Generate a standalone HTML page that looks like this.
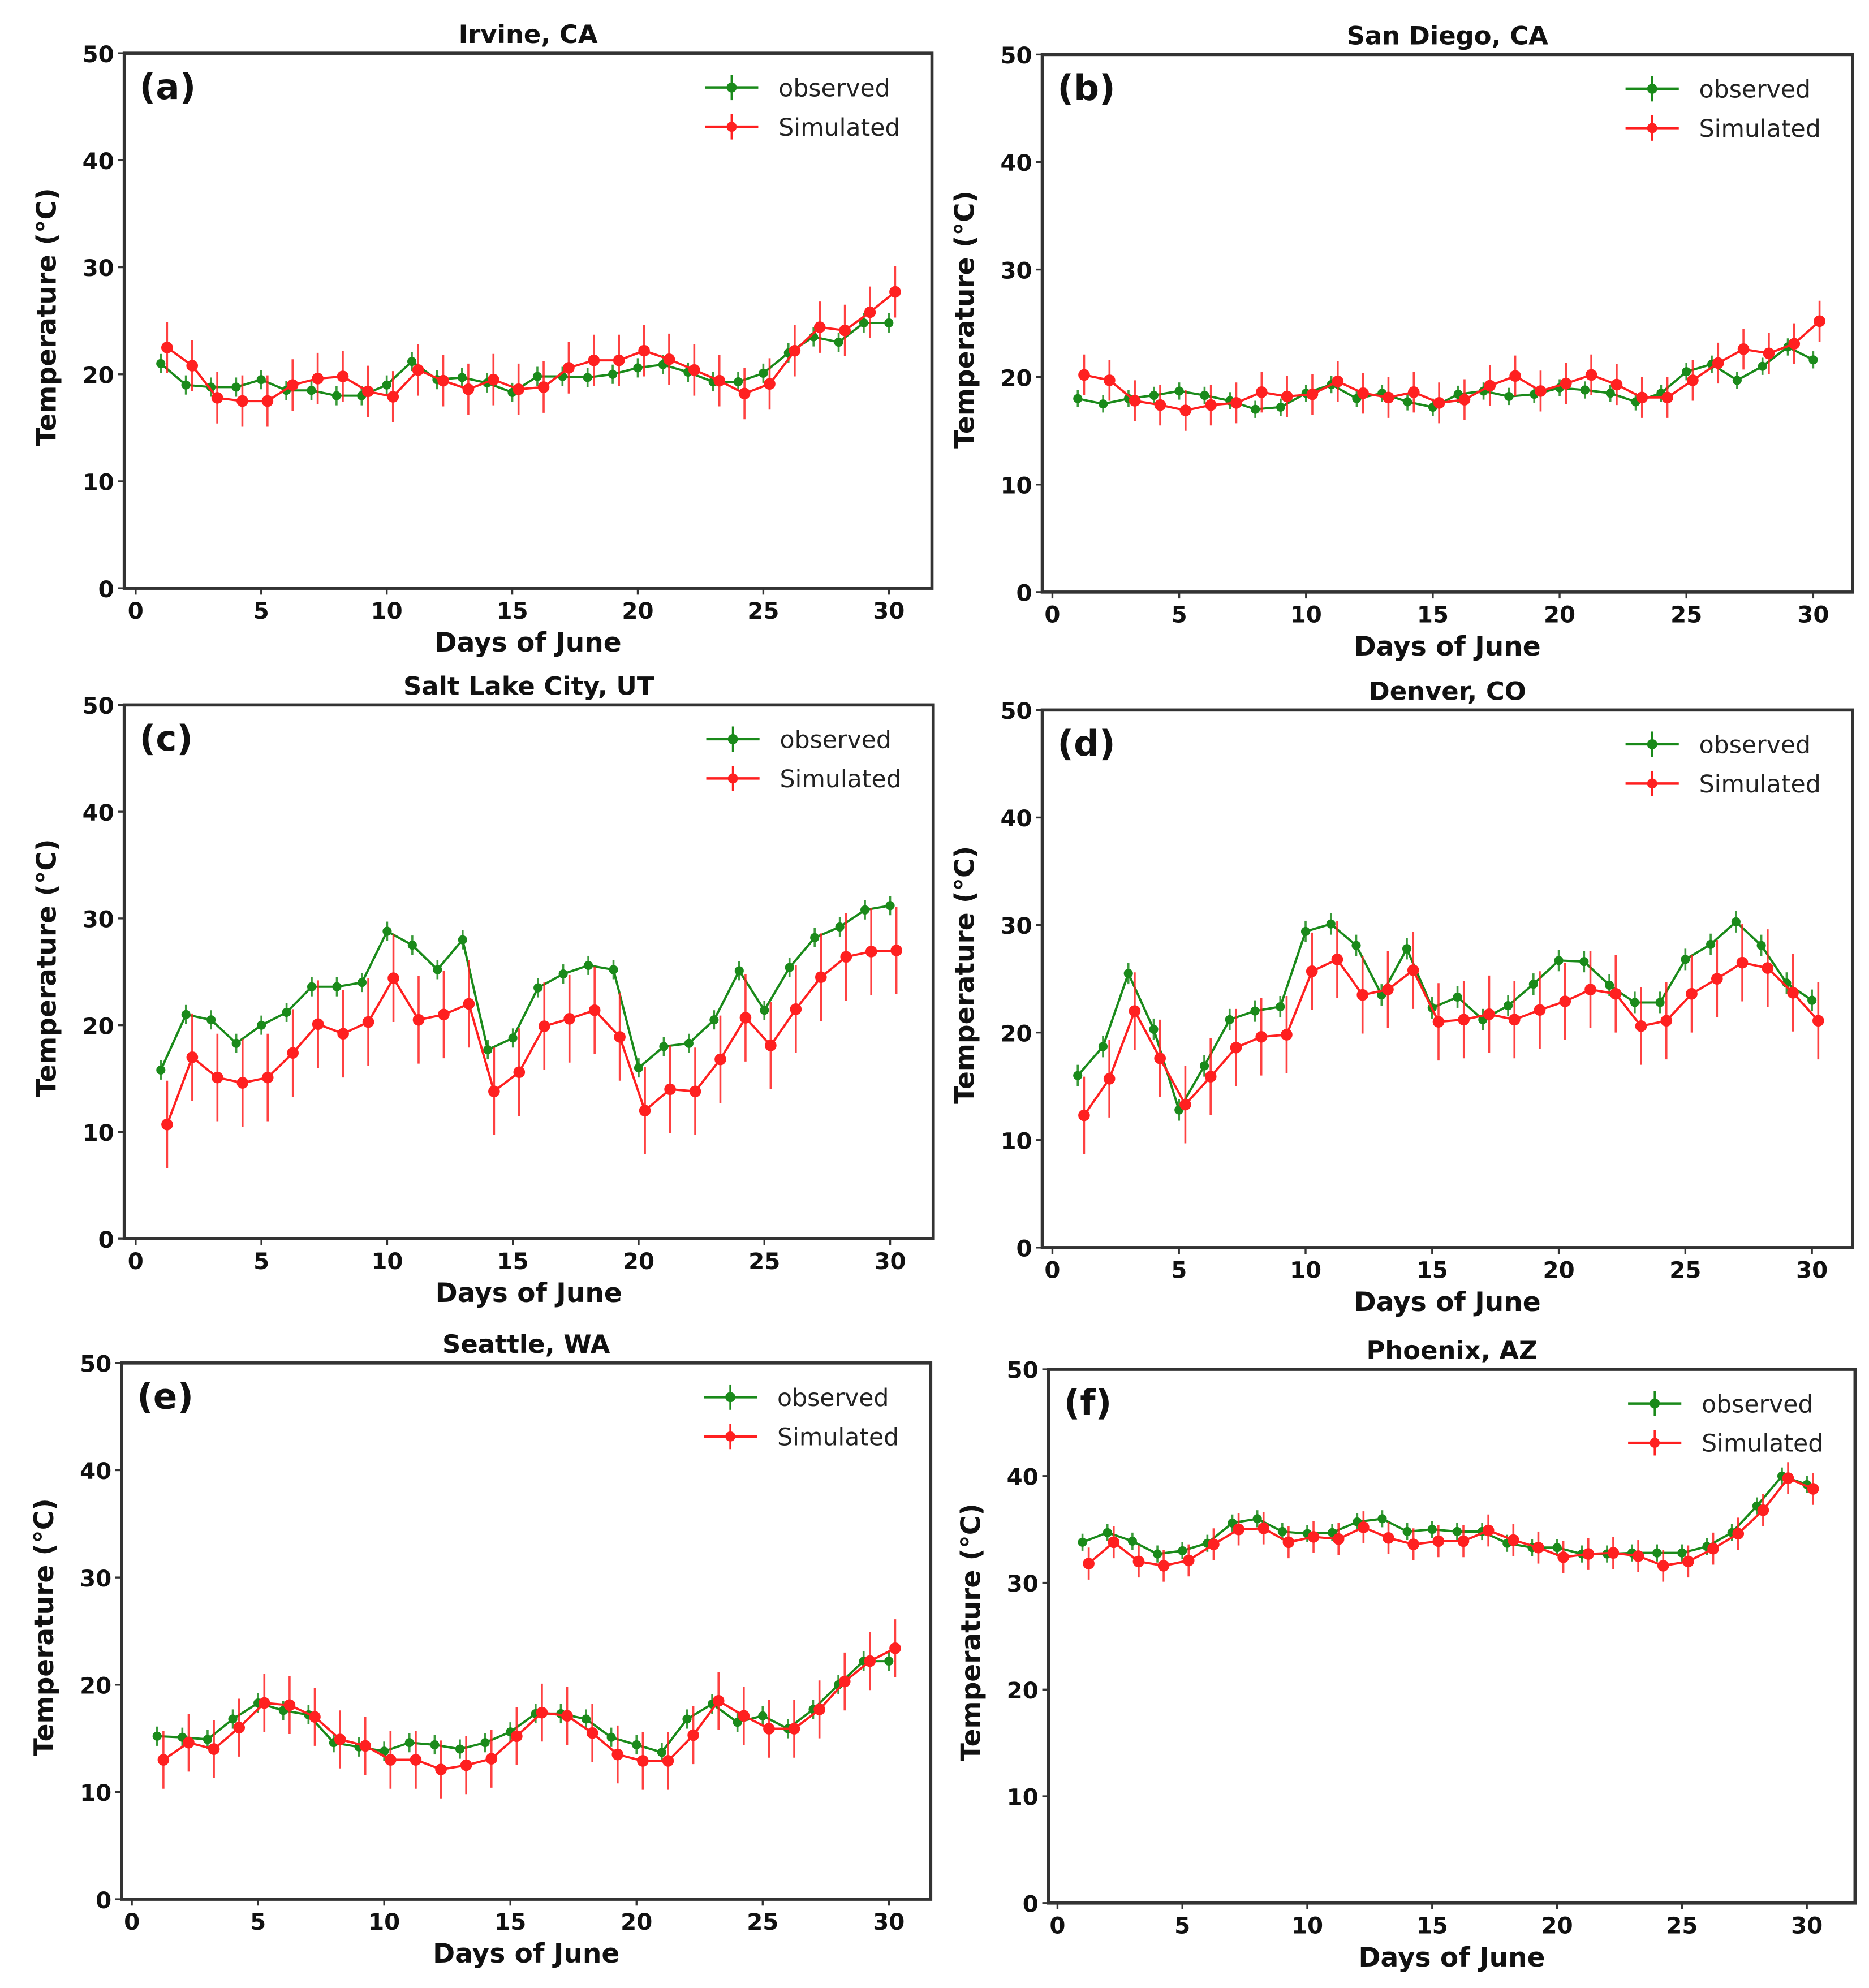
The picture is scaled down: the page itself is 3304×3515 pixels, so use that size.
<!DOCTYPE html>
<html><head><meta charset="utf-8"><style>
html,body{margin:0;padding:0;background:#fff;}
svg{display:block;}
text{font-family:"DejaVu Sans","Liberation Sans",sans-serif;}
</style></head><body>
<svg id="fig" width="3304" height="3515" viewBox="0 0 1474 1568" preserveAspectRatio="none" xmlns="http://www.w3.org/2000/svg"></svg>
<script>
const days = Array.from({length:30},(_,i)=>i+1);
const xTicks = [0,5,10,15,20,25,30];
const yTicks = [0,10,20,30,40,50];
const titles = ["Irvine, CA","San Diego, CA","Salt Lake City, UT","Denver, CO","Seattle, WA","Phoenix, AZ"];
const letters = ["(a)","(b)","(c)","(d)","(e)","(f)"];
const obsA = [21,19,18.8,18.8,19.5,18.5,18.5,18,18,19,21.2,19.5,19.7,19.2,18.3,19.8,19.8,19.7,20,20.6,20.9,20.2,19.3,19.3,20.1,22,23.5,23,24.8,24.8];
const simA = [22.5,20.8,17.8,17.5,17.5,19,19.6,19.8,18.4,17.9,20.4,19.4,18.6,19.5,18.6,18.8,20.6,21.3,21.3,22.2,21.4,20.4,19.4,18.2,19.1,22.2,24.4,24.1,25.8,27.7];
const obsB = [18,17.5,18,18.3,18.7,18.3,17.8,17,17.2,18.5,19.3,18,18.5,17.7,17.2,18.4,18.7,18.2,18.4,19,18.8,18.5,17.7,18.5,20.5,21.2,19.7,21,22.8,21.6];
const simB = [20.2,19.7,17.8,17.4,16.9,17.4,17.6,18.6,18.2,18.4,19.6,18.5,18.1,18.6,17.6,17.9,19.2,20.1,18.7,19.4,20.2,19.3,18.1,18.1,19.7,21.3,22.6,22.2,23.1,25.2];
const obsC = [15.8,21,20.5,18.3,20,21.2,23.6,23.6,24,28.8,27.5,25.2,28,17.7,18.8,23.5,24.8,25.6,25.2,16,18,18.3,20.5,25.1,21.4,25.4,28.2,29.2,30.8,31.2];
const simC = [10.7,17,15.1,14.6,15.1,17.4,20.1,19.2,20.3,24.4,20.5,21,22,13.8,15.6,19.9,20.6,21.4,18.9,12,14,13.8,16.8,20.7,18.1,21.5,24.5,26.4,26.9,27];
const obsD = [16,18.7,25.5,20.3,12.8,16.9,21.2,22,22.4,29.4,30.1,28.1,23.5,27.8,22.3,23.3,21.2,22.5,24.5,26.7,26.6,24.4,22.8,22.8,26.8,28.2,30.3,28.1,24.6,23];
const simD = [12.3,15.7,22,17.6,13.3,15.9,18.6,19.6,19.8,25.7,26.8,23.5,24,25.8,21,21.2,21.7,21.2,22.1,22.9,24,23.6,20.6,21.1,23.6,25,26.5,26,23.7,21.1];
const obsE = [15.2,15.1,14.9,16.8,18.3,17.6,17.2,14.6,14.2,13.8,14.6,14.4,14,14.6,15.6,17.3,17.3,16.8,15.1,14.4,13.7,16.8,18.2,16.5,17.1,15.9,17.7,20,22.2,22.2];
const simE = [13,14.6,14,16,18.3,18.1,17,14.9,14.3,13,13,12.1,12.5,13.1,15.2,17.4,17.1,15.5,13.5,12.9,12.9,15.3,18.5,17.1,15.9,15.9,17.7,20.3,22.2,23.4];
const obsF = [33.8,34.7,33.9,32.7,33,33.7,35.6,36,34.8,34.6,34.7,35.7,36,34.8,35,34.8,34.8,33.7,33.3,33.3,32.7,32.7,32.8,32.8,32.8,33.4,34.7,37.2,40,39.2];
const simF = [31.8,33.8,32,31.6,32.1,33.6,35,35.1,33.8,34.3,34.1,35.2,34.2,33.6,33.9,33.9,34.9,34,33.3,32.4,32.7,32.8,32.5,31.6,32,33.2,34.6,36.8,39.8,38.8];
const obsErr = [0.9,0.8,0.9,1.0,0.9,0.8];
const simErr = [2.4,1.9,4.1,3.6,2.7,1.5];
const obsAll=[obsA,obsB,obsC,obsD,obsE,obsF];
const simAll=[simA,simB,simC,simD,simE,simF];
// layout (display coords)
const boxes=[
 {L:98,R:735,T:42,B:464,x0:107,x30:701},
 {L:822,R:1461,T:43,B:467,x0:830,x30:1430},
 {L:98,R:736,T:556,B:977,x0:107,x30:702},
 {L:822,R:1461,T:560,B:984,x0:830,x30:1429},
 {L:96,R:734,T:1075,B:1498,x0:104,x30:701},
 {L:827,R:1463,T:1080,B:1501,x0:834,x30:1425}];
const NS="http://www.w3.org/2000/svg";
const svg=document.getElementById('fig');
function mk(tag,attrs,parent,txt){const e=document.createElementNS(NS,tag);for(const k in attrs)e.setAttribute(k,attrs[k]);if(txt!==undefined)e.textContent=txt;parent.appendChild(e);return e;}
const GREEN="#1a8a1a",RED="#ff2020";
boxes.forEach((b,p)=>{
  const g=mk('g',{},svg);
  
  
  const X=d=>b.x0+(b.x30-b.x0)*d/30;
  const Y=v=>b.B-(b.B-b.T)*v/50;
  // ticks
  xTicks.forEach(t=>{
    const l=mk('line',{x1:X(t),x2:X(t),y1:b.B,y2:b.B+5,stroke:'#333','stroke-width':1.5},g);
    
    const tx=mk('text',{x:X(t),y:b.B+24,'font-size':18,'font-weight':'bold','text-anchor':'middle',fill:'#111'},g,String(t));
    
  });
  yTicks.forEach(t=>{
    const l=mk('line',{x1:b.L-5,x2:b.L,y1:Y(t),y2:Y(t),stroke:'#333','stroke-width':1.5},g);
    
    const tx=mk('text',{x:b.L-8,y:Y(t)+7,'font-size':18,'font-weight':'bold','text-anchor':'end',fill:'#111'},g,String(t));
    
  });
  const ti=mk('text',{x:(b.L+b.R)/2,y:b.T-8,'font-size':20,'font-weight':'bold','text-anchor':'middle',fill:'#111'},g,titles[p]);
  
  const xl=mk('text',{x:(b.L+b.R)/2,y:b.B+50,'font-size':21,'font-weight':'bold','text-anchor':'middle',fill:'#111'},g,'Days of June');
  
  const cy=(b.T+b.B)/2-3;
  const yl=mk('text',{x:b.L-54,y:cy,'font-size':21,'font-weight':'bold','text-anchor':'middle',fill:'#111',transform:`rotate(-90 ${b.L-54} ${cy})`},g,'Temperature (°C)');
  
  const lt=mk('text',{x:b.L+12,y:b.T+36,'font-size':28,'font-weight':'bold',fill:'#111'},g,letters[p]);
  
  // series
  const series=[{d:obsAll[p],e:obsErr[p],c:GREEN,off:0,name:'observed'},{d:simAll[p],e:simErr[p],c:RED,off:0.25,name:'simulated'}];
  series.forEach(s=>{
    const pts=s.d.map((v,i)=>X(days[i]+s.off).toFixed(1)+','+Y(v).toFixed(1)).join(' ');
    const pl=mk('polyline',{points:pts,fill:'none',stroke:s.c,'stroke-width':1.8},g);
    
    s.d.forEach((v,i)=>{
      const x=X(days[i]+s.off);
      const eb=mk('line',{x1:x,x2:x,y1:Y(v-s.e),y2:Y(v+s.e),stroke:s.c,'stroke-width':1.6,opacity:0.85},g);
      
      const c=mk('circle',{cx:x,cy:Y(v),r:s.name==='observed'?3.6:4.6,fill:s.c},g);
      
    });
  });
  // frame
  const fr=mk('rect',{x:b.L,y:b.T,width:b.R-b.L,height:b.B-b.T,fill:'none',stroke:'#333','stroke-width':2.5},g);
  
  // legend
  const lg=mk('g',{},g);
  
  [['observed',GREEN,27],['Simulated',RED,58]].forEach(([lab,col,dy])=>{
    const ly=b.T+dy, lx=b.R-179;
    const e=mk('g',{},lg);
    
    mk('line',{x1:lx,x2:lx+42,y1:ly,y2:ly,stroke:col,'stroke-width':2},e);
    mk('line',{x1:lx+21,x2:lx+21,y1:ly-10,y2:ly+10,stroke:col,'stroke-width':1.6},e);
    mk('circle',{cx:lx+21,cy:ly,r:4,fill:col},e);
    mk('text',{x:b.R-121,y:ly+7,'font-size':19,fill:'#222'},e,lab);
  });
});
</script>
</body></html>
